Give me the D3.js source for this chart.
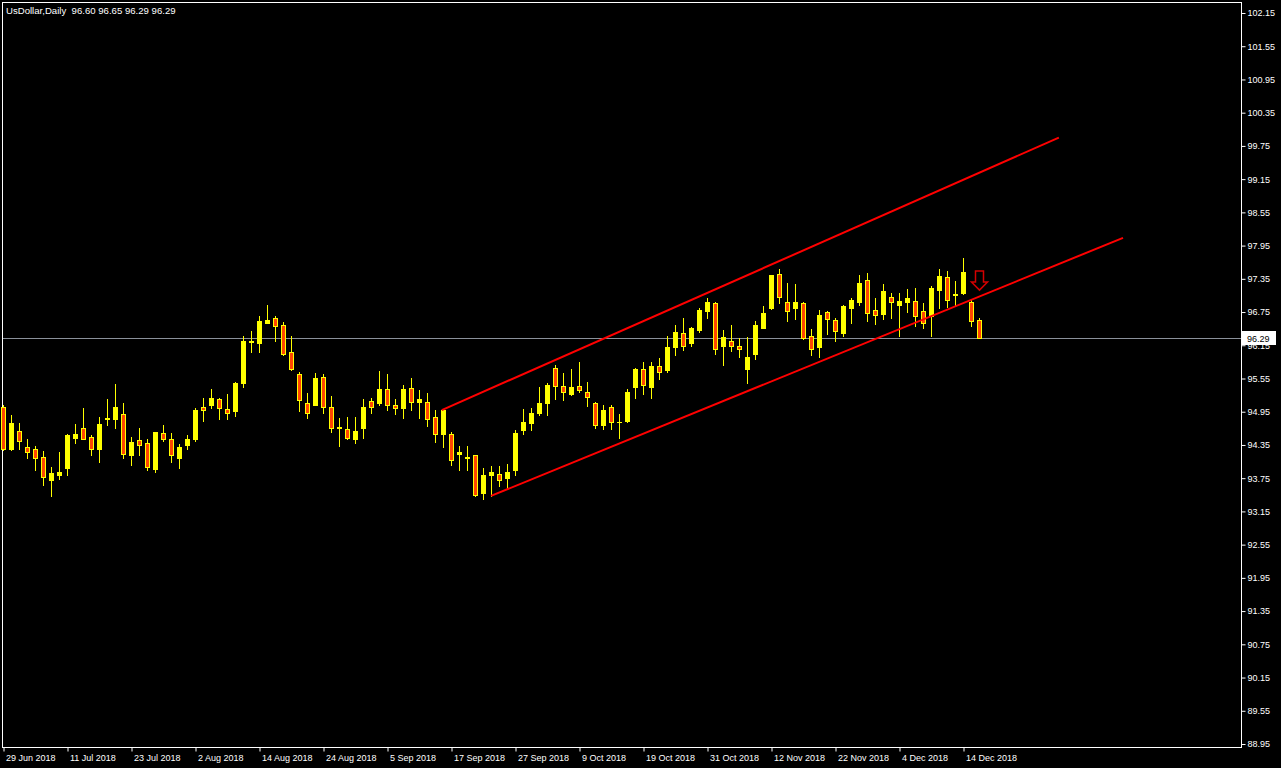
<!DOCTYPE html>
<html><head><meta charset="utf-8">
<script src="https://cdn.jsdelivr.net/npm/d3@7"></script>
<style>html,body{margin:0;padding:0;background:#000;overflow:hidden}svg{display:block}</style>
</head><body>
<script>
const title = "UsDollar,Daily  96.60 96.65 96.29 96.29";
const dateLabels = ["29 Jun 2018","11 Jul 2018","23 Jul 2018","2 Aug 2018","14 Aug 2018","24 Aug 2018","5 Sep 2018","17 Sep 2018","27 Sep 2018","9 Oct 2018","19 Oct 2018","31 Oct 2018","12 Nov 2018","22 Nov 2018","4 Dec 2018","14 Dec 2018"];
const dateLabelIndex = [0,8,16,24,32,40,48,56,64,72,80,88,96,104,112,120];
const priceTicks = ["102.15","101.55","100.95","100.35","99.75","99.15","98.55","97.95","97.35","96.75","96.15","95.55","94.95","94.35","93.75","93.15","92.55","91.95","91.35","90.75","90.15","89.55","88.95"];
const lastPrice = 96.29;

const open = [95.03,94.28,94.60,94.31,94.27,94.13,93.71,93.80,93.94,94.48,94.66,94.49,94.28,94.81,94.82,94.91,94.16,94.44,94.39,93.92,
94.57,94.46,94.12,94.35,94.45,95.04,95.08,95.18,95.00,94.97,95.47,96.21,96.20,96.56,96.64,96.52,96.03,95.63,95.11,95.08,
95.58,95.04,94.65,94.64,94.46,94.65,95.14,95.10,95.36,95.07,95.01,95.38,95.13,95.13,94.86,94.55,94.54,94.18,94.13,94.16,
93.49,93.81,93.83,93.76,93.89,94.62,94.75,94.93,95.11,95.74,95.42,95.27,95.42,95.31,95.11,94.71,95.04,94.76,94.78,95.39,
95.72,95.40,95.78,95.71,96.11,96.37,96.20,96.43,96.77,96.91,96.13,96.23,96.14,95.73,96.00,96.47,96.82,97.44,96.93,96.82,
96.91,96.32,96.11,96.75,96.61,96.38,96.83,96.94,97.33,96.79,96.72,97.02,96.88,96.94,96.95,96.77,96.67,97.14,97.38,97.05,
97.09,96.93,96.60];
const high = [95.07,94.89,94.74,94.45,94.34,94.24,93.95,94.22,94.54,94.73,95.02,94.53,94.86,95.18,95.45,95.11,94.49,94.66,94.46,94.58,
94.71,94.57,94.37,94.53,95.02,95.20,95.36,95.20,95.27,95.49,96.32,96.41,96.68,96.88,96.68,96.57,96.32,95.67,95.29,95.65,
95.63,95.23,94.84,94.86,94.86,95.18,95.20,95.69,95.63,95.18,95.43,95.56,95.34,95.29,94.98,95.00,94.58,94.33,94.33,94.16,
93.93,93.97,93.97,94.01,94.62,95.00,95.02,95.40,95.47,95.79,95.65,95.72,95.85,95.49,95.13,95.07,95.07,94.91,95.36,95.74,
95.85,95.85,95.92,96.32,96.52,96.64,96.48,96.82,97.00,96.93,96.43,96.52,96.28,96.30,96.59,96.86,97.42,97.53,97.28,97.26,
96.93,96.44,96.79,96.77,96.64,96.88,97.00,97.42,97.45,97.00,97.26,97.09,97.09,97.17,97.18,96.91,97.22,97.53,97.49,97.31,
97.73,96.97,96.65];
const low = [94.25,94.25,94.28,94.12,93.90,93.63,93.43,93.74,93.81,94.39,94.45,94.16,94.05,94.71,94.66,94.12,93.98,94.17,93.90,93.87,
94.43,94.05,93.94,94.28,94.43,94.79,95.02,94.81,94.82,94.88,95.39,96.02,96.02,96.55,96.22,95.98,95.71,94.97,94.83,95.07,
94.93,94.59,94.34,94.46,94.39,94.48,94.93,95.08,94.99,94.90,94.83,94.99,94.84,94.70,94.41,94.32,93.99,93.89,93.90,93.42,
93.38,93.43,93.60,93.56,93.81,94.55,94.62,94.89,94.89,95.18,95.16,95.25,95.31,95.05,94.66,94.64,94.64,94.48,94.76,95.20,
95.27,95.20,95.55,95.67,95.98,96.07,96.13,96.39,96.64,96.00,95.80,96.05,95.94,95.47,95.91,96.46,96.80,96.92,96.59,96.62,
96.27,95.98,95.93,96.36,96.22,96.31,96.56,96.88,96.58,96.54,96.63,96.64,96.31,96.75,96.49,96.46,96.32,96.82,96.84,96.88,
97.07,96.50,96.29];
const close = [94.28,94.74,94.43,94.23,94.12,93.78,93.84,93.87,94.53,94.55,94.46,94.28,94.73,94.84,95.04,94.19,94.40,94.35,93.96,94.58,
94.45,94.16,94.31,94.46,94.98,94.99,95.20,95.01,94.93,95.47,96.23,96.23,96.59,96.61,96.50,96.00,95.73,95.17,94.93,95.56,
95.04,94.66,94.67,94.48,94.60,95.04,95.04,95.36,95.08,95.02,95.36,95.13,95.18,94.81,94.55,94.98,94.07,94.22,94.12,93.45,
93.81,93.86,93.72,93.86,94.57,94.77,94.93,95.11,95.43,95.42,95.30,95.40,95.35,95.22,94.71,94.98,94.77,94.77,95.31,95.72,
95.44,95.78,95.67,96.12,96.39,96.13,96.46,96.79,96.93,96.09,96.30,96.14,96.09,95.94,96.52,96.73,97.42,97.03,96.76,96.93,
96.29,96.09,96.70,96.63,96.40,96.86,96.97,97.27,96.74,96.70,97.13,96.94,96.95,97.00,96.68,96.56,97.18,97.40,96.97,97.08,
97.47,96.59,96.29];

// channel lines: [barIndex, price]
const upperLine = [[54.85, 94.98],[131.98, 99.90]];
const lowerLine = [[61.0, 93.43],[140.0, 98.09]];
const arrowAt = [122, 97.49];

const W = 1281, H = 768;
const plot = {left: 2, top: 2, right: 1241, bottom: 747};
const svg = d3.select("body").append("svg").attr("width", W).attr("height", H)
  .style("background", "#000");

const x = d3.scaleLinear().domain([0, 122]).range([3, 979]);
const y = d3.scaleLinear().domain([88.95, 102.15]).range([744, 13]);
const font = "'Liberation Sans', Arial, sans-serif";

// frame
svg.append("rect").attr("x", plot.left + 0.5).attr("y", plot.top + 0.5)
  .attr("width", plot.right - plot.left).attr("height", plot.bottom - plot.top)
  .attr("fill", "none").attr("stroke", "#fff").attr("stroke-width", 1);

// price axis
const yAxisG = svg.append("g").attr("transform", `translate(${plot.right + 0.5},0)`);
yAxisG.call(d3.axisRight(y).tickValues(priceTicks.map(Number)).tickFormat((d, i) => priceTicks[i]).tickSize(4).tickPadding(2))
  .call(g => g.select(".domain").remove())
  .call(g => g.selectAll("line").attr("stroke", "#fff"))
  .call(g => g.selectAll("text").attr("fill", "#fff").style("font-family", font).style("font-size", "9px"));

// date axis
const xAxisG = svg.append("g").attr("transform", `translate(0.5,${plot.bottom + 0.5})`);
xAxisG.call(d3.axisBottom(x).tickValues(dateLabelIndex).tickFormat((d, i) => dateLabels[i]).tickSize(4).tickPadding(3))
  .call(g => g.select(".domain").remove())
  .call(g => g.selectAll("line").attr("stroke", "#fff"))
  .call(g => g.selectAll("text").attr("fill", "#fff").attr("text-anchor", "start").attr("x", 2)
    .style("font-family", font).style("font-size", "9px"));

// last price line
svg.append("line").attr("x1", plot.left + 1).attr("x2", plot.right)
  .attr("y1", Math.round(y(lastPrice)) + 0.5).attr("y2", Math.round(y(lastPrice)) + 0.5)
  .attr("stroke", "#8a909a").attr("stroke-width", 1);

// candles
const bars = d3.range(open.length).map(i => ({i, o: open[i], h: high[i], l: low[i], c: close[i]}));
const cg = svg.append("g");
cg.selectAll("line.wick").data(bars).join("line").attr("class", "wick")
  .attr("x1", d => x(d.i) + 0.5).attr("x2", d => x(d.i) + 0.5)
  .attr("y1", d => Math.round(y(d.h))).attr("y2", d => Math.round(y(d.l)) + 1)
  .attr("stroke", "#ffff00").attr("stroke-width", 1);
cg.selectAll("rect.bull").data(bars.filter(d => d.c >= d.o)).join("rect").attr("class", "bull")
  .attr("x", d => x(d.i) - 2)
  .attr("y", d => Math.round(y(d.c)))
  .attr("width", 5)
  .attr("height", d => Math.max(1, Math.round(y(d.o)) - Math.round(y(d.c)) + 1))
  .attr("fill", "#ffff00");
cg.selectAll("rect.bear").data(bars.filter(d => d.c < d.o)).join("rect").attr("class", "bear")
  .attr("x", d => x(d.i) - 1.5)
  .attr("y", d => Math.round(y(d.o)) + 0.5)
  .attr("width", 4)
  .attr("height", d => Math.max(1, Math.round(y(d.c)) - Math.round(y(d.o))))
  .attr("fill", "#ff4500").attr("stroke", "#ffff00").attr("stroke-width", 1);

// channel
const line = d3.line().x(d => x(d[0])).y(d => y(d[1]));
[upperLine, lowerLine].forEach(pts => {
  svg.append("path").attr("d", line(pts)).attr("fill", "none")
    .attr("stroke", "#ff0000").attr("stroke-width", 2);
});

// arrow
const ax = x(arrowAt[0]) + 0.5, ay = y(arrowAt[1]);
svg.append("path")
  .attr("d", `M${ax - 4},${ay} L${ax + 4},${ay} L${ax + 4},${ay + 11} L${ax + 8},${ay + 11} L${ax},${ay + 19} L${ax - 8},${ay + 11} L${ax - 4},${ay + 11} Z`)
  .attr("fill", "#000").attr("stroke", "#d40000").attr("stroke-width", 1.5);

// last price label
const lpY = Math.round(y(lastPrice));
svg.append("rect").attr("x", plot.right + 1).attr("y", lpY - 7).attr("width", 34).attr("height", 14).attr("fill", "#fff");
svg.append("text").attr("x", plot.right + 6).attr("y", lpY + 3.5).text(lastPrice.toFixed(2))
  .attr("fill", "#000").style("font-family", font).style("font-size", "9px");

// title
svg.append("text").attr("x", 6).attr("y", 14).text(title).attr("fill", "#fff")
  .style("font-family", font).style("font-size", "9.6px").attr("xml:space", "preserve").style("white-space", "pre");
</script>
</body></html>
